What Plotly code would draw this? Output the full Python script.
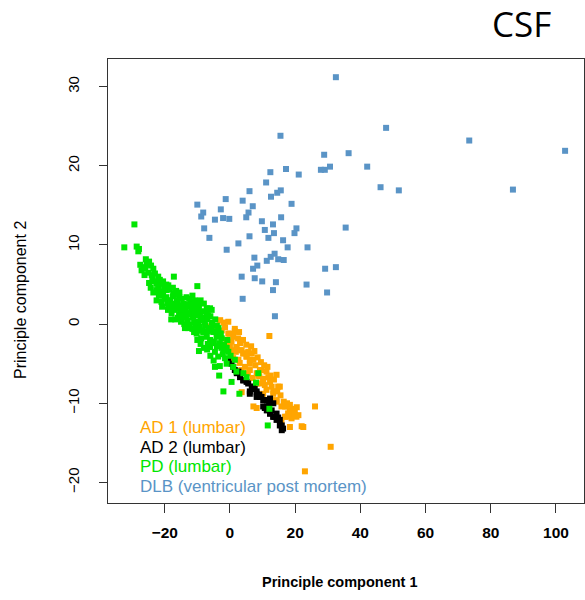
import plotly.graph_objects as go

# --- PCA scores per cohort (PC1, PC2) ---
ad1_pc1 = [-1.5, -0.5, -1.0, 1.0, 2.5, 0.0, 2.0, 3.6, 3.1, 4.1, 5.6, 6.7, 5.1, 7.2, 6.1, 2.6, 1.0,
           12.1, 8.2, 9.7, 11.2, 11.8, 10.2, 9.2, 10.7, 12.3, 12.8, 14.8, 11.2, 10.2, 13.3, 14.3,
           15.8, 18.4, 19.4, 17.9, 18.9, 19.9, 15.3, 18.4, 22.5, 26.1, 7.2, 3.6,
           30.9, 23.0, 22.0, 15.8, 16.9, 18.4, 19.9, 20.4, 17.4, 19.4, 14.3, 12.8,
           -6.1, 0.0, 0.5, 2.0, 3.1, 4.1, 5.1, 6.1, 4.6, 6.1, 9.2, 10.2, 8.2,
           17.4, 17.9, 16.9, 15.3, 14.3, 13.3, 8.2, -2.5, 1.5, 3.0, 7.8, 9.0,
           -3.0, -2.0, -0.5, 1.5, 2.8, 4.0, 5.0, 6.5, 7.5, 8.5, 9.5, 10.5, 11.5, 12.5,
           13.5, 14.5, 15.5, 16.5, 17.5, 20.5, 21.0, 3.5, 5.5, 7.0, 8.8, 1.8, 0.5, -1.0, -4.0]
ad1_pc2 = [-0.4, -1.2, -2.0, -1.6, -1.8, -2.7, -2.9, -3.3, -2.4, -3.7, -3.5, -3.7, -4.1, -4.5, -5.0, -4.5, -4.3,
           -1.5, -6.2, -5.8, -6.0, -6.7, -6.9, -7.5, -7.7, -7.3, -7.9, -7.9, -8.3, -8.8, -8.5, -9.6,
           -10.4, -10.9, -10.7, -11.3, -11.9, -11.5, -12.1, -13.0, -13.0, -10.4, -10.4, -8.6,
           -15.5, -18.6, -12.9, -12.4, -10.4, -10.2, -10.9, -11.7, -11.7, -11.3, -9.8, -9.6,
           -0.3, -1.2, -3.3, -2.9, -3.3, -3.7, -4.1, -4.5, -5.4, -5.8, -5.8, -7.1, -7.5,
           -10.4, -11.3, -11.7, -7.9, -6.4, -8.8, -10.6, -0.8, -0.9, -4.9, -5.2, -6.6,
           0.5, 0.2, 0.3, -0.6, -1.0, -2.0, -2.6, -2.8, -3.4, -4.2, -4.8, -5.2, -5.4, -6.5,
           -7.0, -8.5, -9.0, -9.8, -10.0, -10.5, -11.5, -5.8, -6.2, -6.8, -6.5, -3.5, -2.2, -3.0, -0.8]

ad2_pc1 = [1.5, 3.1, 4.1, 5.6, 7.1, 6.1, 8.2, 9.7, 10.7, 12.3, 13.3, 11.3, 12.8, 14.3, 13.8,
           15.3, 15.9, 16.3, 6.1, 8.2, 10.2, 10.2, 11.3, 12.3, 13.3, 14.3, 15.3, 15.9,
           -0.5, 1.0, 2.1, 3.1, 5.1, 4.1, 6.7, 8.2, 9.2, 11.3, 10.7, 12.3, 13.3, 2.6, 7.6, 9.0,
           12.0, 14.8, 0.5]
ad2_pc2 = [-5.8, -6.4, -7.1, -7.5, -7.9, -8.5, -8.8, -9.2, -9.6, -9.4, -10.0, -10.4, -10.9, -11.3, -11.7,
           -12.1, -12.8, -13.2, -8.8, -9.2, -9.6, -10.4, -10.9, -11.3, -11.7, -12.1, -12.8, -13.4,
           -4.5, -5.4, -6.2, -6.7, -7.3, -7.1, -7.9, -8.5, -9.2, -9.6, -10.6, -11.3, -11.7, -6.0, -8.2, -8.9,
           -10.0, -11.8, -5.0]

pd_pc1 = [-32.4, -29.3, -28.6, -28.1, -27.9, -26.6, -25.5, -24.8, -24.2, -23.5, -27.1, -26.0,
          -17.2, -23.8, -23.2, -22.5, -24.3, -22.0, -21.0, -20.2, -19.4, -21.3, -22.6, -21.0, -10.0,
          -20.5, -19.5, -18.4, -17.5, -16.3, -15.5, -14.3, -18.8, -17.4, -16.9, -15.8, -14.8, -17.9,
          -12.8, -13.6, -12.0, -11.0, -13.3, -12.3, -11.3, -10.3, -9.2, -10.2, -12.3, -13.8, -15.0,
          -14.2, -16.0, -11.5, -9.0, -8.2, -7.1, -6.1, -5.6, -7.1, -8.0, -9.5,
          -9.2, -8.2, -10.2, -7.1, -5.1, -6.1, -4.1, -6.5, -5.5, -4.5, -7.5, -8.8, -3.5,
          -9.5, -6.1, -4.6, -3.1, -2.0, -3.6, -1.5, -5.2, -2.5, -1.8, -0.8,
          -3.1, 0.5, -2.0, 2.9, 8.7, 8.0, 11.6, 12.1, -1.0, 1.0, -0.5, -4.6, 4.1, 5.1, -3.3,
          -18.9, -16.3, -14.8, -10.7, -9.7, -11.8, -13.8, -17.4, -19.9, -18.4, -13.3, -12.3,
          -15.3, -13.8, -11.3, -8.7, -6.7, -9.7, -7.7, -20.8, -19.0, -16.8, -15.0, -13.0,
          -11.7, -10.5, -8.5, -7.0, -5.8, -4.0, -2.8, -1.2, -6.8, -4.9, -3.9, -2.2,
          -25.0, -24.0, -23.0, -22.0, -21.5, -20.5, -19.5, -18.5, -17.5, -16.5, -15.5, -20.0,
          -21.8, -19.0, -18.0, -16.8, -15.6, -14.0, -12.8, -11.0, -10.0, -9.0, -8.0, -7.0,
          -6.0, -5.0, -12.5, -11.5, -10.5, -9.0, -8.2, -7.0, -6.0, -5.0, -4.2, -3.0, -2.6,
          -1.0, 0.2, -4.0, -6.8, -7.8, -9.8, -11.0, -13.0, -15.2, -16.2, -17.8, -19.2, -20.8,
          -22.5, -23.5, -24.8, -26.2, -27.5, -25.8, -13.8, -12.6, -10.8, -9.8, 2.0, 1.5]
pd_pc2 = [9.7, 12.6, 9.8, 9.2, 9.5, 7.2, 7.6, 7.9, 7.4, 7.0, 6.8, 7.0,
          6.0, 5.8, 5.4, 5.1, 4.6, 4.8, 5.1, 4.6, 4.3, 4.1, 4.3, 2.8, 4.8,
          3.6, 3.4, 3.0, 3.5, 3.0, 3.4, 2.6, 2.2, 2.6, 1.8, 2.2, 1.4, 1.4,
          2.2, 1.8, 2.8, 2.4, 0.9, 1.2, 0.9, 1.5, 1.4, 0.1, -0.1, -0.5, 0.3,
          0.8, 0.8, -0.6, 0.5, 0.8, 2.0, 2.0, 1.8, 1.4, 2.6, 2.3,
          -0.3, -1.0, -1.2, -1.6, -1.0, -2.0, -1.6, -0.5, 0.2, 0.6, -0.2, -1.8, -0.5,
          -3.4, -2.9, -3.5, -2.4, -3.3, -4.1, -4.3, -2.4, -1.8, -2.6, -2.0,
          -5.3, -7.3, -8.5, -8.8, -6.2, -7.4, -12.8, -10.7, -5.0, -5.4, -3.5, -5.4, -6.2, -6.7, -6.5,
          4.9, 3.7, 3.2, 3.0, 1.1, 1.6, 1.1, 3.9, 4.5, 3.0, 3.4, 2.4,
          2.4, 1.6, 0.9, 1.6, 1.1, 0.3, 0.3, 3.9, 2.6, 2.0, 1.0, 0.2,
          1.9, -0.2, -0.8, 0.9, -0.8, -0.2, -1.2, -3.0, -0.9, -2.2, -1.0, -3.8,
          6.5, 6.2, 6.4, 6.0, 5.6, 5.4, 5.0, 4.4, 4.6, 4.2, 4.0, 3.2,
          3.6, 1.8, 0.6, 0.6, 1.2, 0.0, -0.5, -1.0, -2.0, -2.5, -3.0, -3.2,
          -4.0, -4.6, 3.2, 3.6, 2.0, 3.0, 1.6, 0.6, 1.0, -0.2, -1.0, -1.2, -3.0,
          -3.0, -4.0, -2.8, -2.5, -1.0, -0.8, 0.2, 0.4, 1.8, 2.6, 2.0, 2.6, 2.2,
          3.0, 4.0, 5.2, 6.2, 7.5, 8.2, 2.5, 1.4, 1.2, 1.9, -6.0, -4.5]

dlb_pc1 = [32.5, 47.9, 15.5, 73.4, 102.8, 28.9, 36.4, 42.1, 30.7, 27.9, 29.1, 17.2, 12.4, 21.1,
           11.1, 46.2, 51.8, 86.8, 6.0, 15.6, 14.5, 12.6, -1.3, 3.9, -10.0, 7.0, 18.9, -8.2, -8.8,
           -2.8, -4.6, -2.1, -0.2, 5.7, 5.0, 15.7, 9.8, 13.2, 35.5, -7.9, 20.4, 19.8, 10.7, 13.5,
           -6.3, 6.0, 11.8, 16.3, 2.6, 17.7, 23.8, -1.0, 7.5, 13.7, 12.5, 14.8, 16.5, 11.3,
           8.4, 7.1, 29.2, 32.5, 3.6, 7.6, 9.9, 14.1, 23.5, 13.2, 29.8, 3.9, 13.8]
dlb_pc2 = [31.2, 24.8, 23.8, 23.2, 21.9, 21.4, 21.6, 19.9, 19.9, 19.5, 19.5, 19.6, 19.2, 18.9,
           17.9, 17.3, 16.9, 17.0, 16.8, 16.9, 16.6, 16.1, 15.8, 15.6, 15.1, 14.9, 15.2, 14.1, 13.6,
           14.5, 13.2, 13.4, 13.3, 14.1, 13.5, 13.5, 13.0, 12.6, 12.2, 12.1, 12.1, 11.5, 11.9, 11.5,
           10.9, 11.1, 10.9, 10.6, 10.2, 9.7, 9.7, 9.4, 8.4, 8.9, 8.5, 8.2, 8.1, 8.0,
           7.4, 7.0, 7.0, 7.2, 6.0, 5.8, 5.4, 5.3, 5.0, 4.3, 4.0, 3.2, 1.0]

x_ticks = [-20, 0, 20, 40, 60, 80, 100]
y_ticks = [-20, -10, 0, 10, 20, 30]

groups = [
    ("AD 1 (lumbar)", ad1_pc1, ad1_pc2, "#ffa500"),
    ("AD 2 (lumbar)", ad2_pc1, ad2_pc2, "#000000"),
    ("PD (lumbar)", pd_pc1, pd_pc2, "#00e600"),
    ("DLB (ventricular post mortem)", dlb_pc1, dlb_pc2, "#5a94c6"),
]

fig = go.Figure()
for name, xs, ys, col in groups:
    fig.add_trace(go.Scatter(
        x=xs, y=ys, mode="markers", name=name, showlegend=False,
        marker=dict(symbol="square", size=6, color=col, line=dict(width=0)),
    ))

# in-plot key as coloured text
key_y = [0.169, 0.125, 0.083, 0.038]
for (name, _, _, col), ky in zip(groups, key_y):
    fig.add_annotation(
        x=0.063, y=ky, xref="paper", yref="paper", text=name, showarrow=False,
        xanchor="left", yanchor="middle",
        font=dict(family="Liberation Sans, Arial", size=17, color=col),
    )

# axis titles
fig.add_annotation(
    x=0.487, y=-0.178, xref="paper", yref="paper", text="<b>Principle component 1</b>",
    showarrow=False, xanchor="center", yanchor="middle",
    font=dict(family="Liberation Sans, Arial", size=14.5, color="#000"),
)
fig.add_annotation(
    x=-0.185, y=0.457, xref="paper", yref="paper", text="Principle component 2",
    showarrow=False, xanchor="center", yanchor="middle", textangle=-90,
    font=dict(family="Liberation Sans, Arial", size=16, color="#000"),
)

# panel label
fig.add_annotation(
    x=0.868, y=1.0, xref="paper", yref="paper", text="CSF", showarrow=False,
    xanchor="center", yanchor="bottom", yshift=10,
    font=dict(family="Open Sans", size=35, color="#000"),
)

fig.update_layout(
    width=585, height=600,
    margin=dict(l=108, r=1, t=59, b=97),
    paper_bgcolor="white", plot_bgcolor="white",
    xaxis=dict(
        range=[-37.4, 108.6], tickvals=x_ticks, ticks="outside", ticklen=9,
        tickcolor="#333", showgrid=False, zeroline=False,
        showline=True, mirror=True, linecolor="#333", linewidth=1,
        tickfont=dict(family="Liberation Sans, Arial", size=15.5, color="#000", weight="bold"),
        ticklabelstandoff=6,
    ),
    yaxis=dict(
        range=[-22.6, 33.5], tickvals=y_ticks, ticks="outside", ticklen=8,
        tickcolor="#333", showgrid=False, zeroline=False,
        showline=True, mirror=True, linecolor="#333", linewidth=1,
        tickangle=-90,
        tickfont=dict(family="Liberation Sans, Arial", size=15, color="#000"),
        ticklabelstandoff=14,
    ),
)

fig.write_html("out.html")
